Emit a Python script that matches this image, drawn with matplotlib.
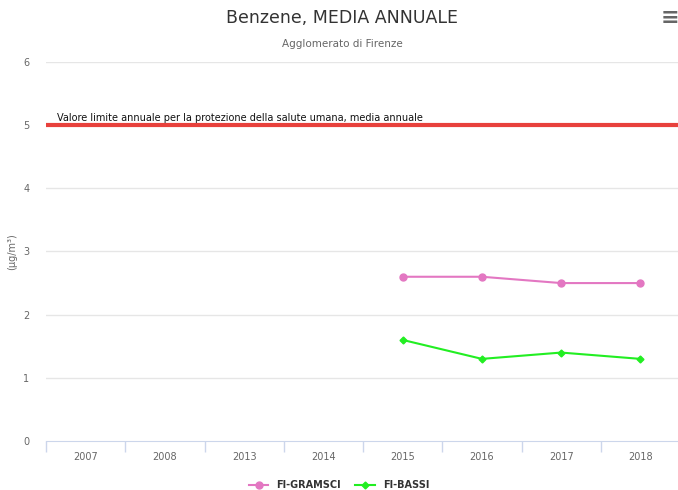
import numpy as np
import matplotlib.pyplot as plt

anni = ['2007', '2008', '2013', '2014', '2015', '2016', '2017', '2018']
gramsci = [np.nan, np.nan, np.nan, np.nan, 2.6, 2.6, 2.5, 2.5]
bassi = [np.nan, np.nan, np.nan, np.nan, 1.6, 1.3, 1.4, 1.3]
limite = 5
yticks = [0, 1, 2, 3, 4, 5, 6]

fig = plt.figure(figsize=(6.78, 4.9), dpi=100)
ax = fig.add_axes([0.068, 0.1, 0.935, 0.7735])

x = np.arange(len(anni))
ax.set_xlim(-0.5, len(anni) - 0.5)
ax.set_ylim(0, 6)

# griglia e linea limite
for y in yticks[1:]:
    ax.axhline(y, color='#e6e6e6', lw=1, zorder=0)
ax.axhline(limite, color='#e8413c', lw=3, zorder=1)
ax.text(-0.36, limite + 0.04, 'Valore limite annuale per la protezione della salute umana, media annuale',
        fontsize=7, color='#111111', va='bottom', ha='left')

ax.plot(x, gramsci, color='#e377c2', lw=1.5, marker='o', ms=5, label='FI-GRAMSCI', zorder=3)
ax.plot(x, bassi, color='#22ee22', lw=1.5, marker='D', ms=3.5, label='FI-BASSI', zorder=3)

ax.set_yticks(yticks)
ax.set_yticklabels([str(v) for v in yticks], fontsize=7, color='#666666')
ax.set_xticks(x)
ax.set_xticklabels(anni, fontsize=7, color='#666666')
ax.tick_params(axis='y', length=0, pad=12)
ax.tick_params(axis='x', length=0, pad=8)
ax.set_xticks(np.arange(len(anni) + 1) - 0.5, minor=True)
ax.tick_params(axis='x', which='minor', length=8, color='#ccd6eb', width=1)

for s in ['top', 'right', 'left']:
    ax.spines[s].set_visible(False)
ax.spines['bottom'].set_color('#ccd6eb')

ax.set_ylabel('(µg/m³)', fontsize=7, color='#666666')
ax.yaxis.set_label_coords(-0.045, 0.5)

fig.text(0.505, 0.963, 'Benzene, MEDIA ANNUALE', fontsize=12.5, color='#333333', ha='center', va='center')
fig.text(0.505, 0.91, 'Agglomerato di Firenze', fontsize=7.5, color='#666666', ha='center', va='center')
fig.text(0.988, 0.963, '≡', fontsize=16, color='#666666', ha='center', va='center', fontweight='bold')

leg = fig.legend(loc='center', bbox_to_anchor=(0.5, 0.01), ncol=2, frameon=False, fontsize=7,
                 handlelength=2, columnspacing=1.5)
for t in leg.get_texts():
    t.set_color('#333333')
    t.set_fontweight('bold')

fig.savefig('out.png', dpi=100)
